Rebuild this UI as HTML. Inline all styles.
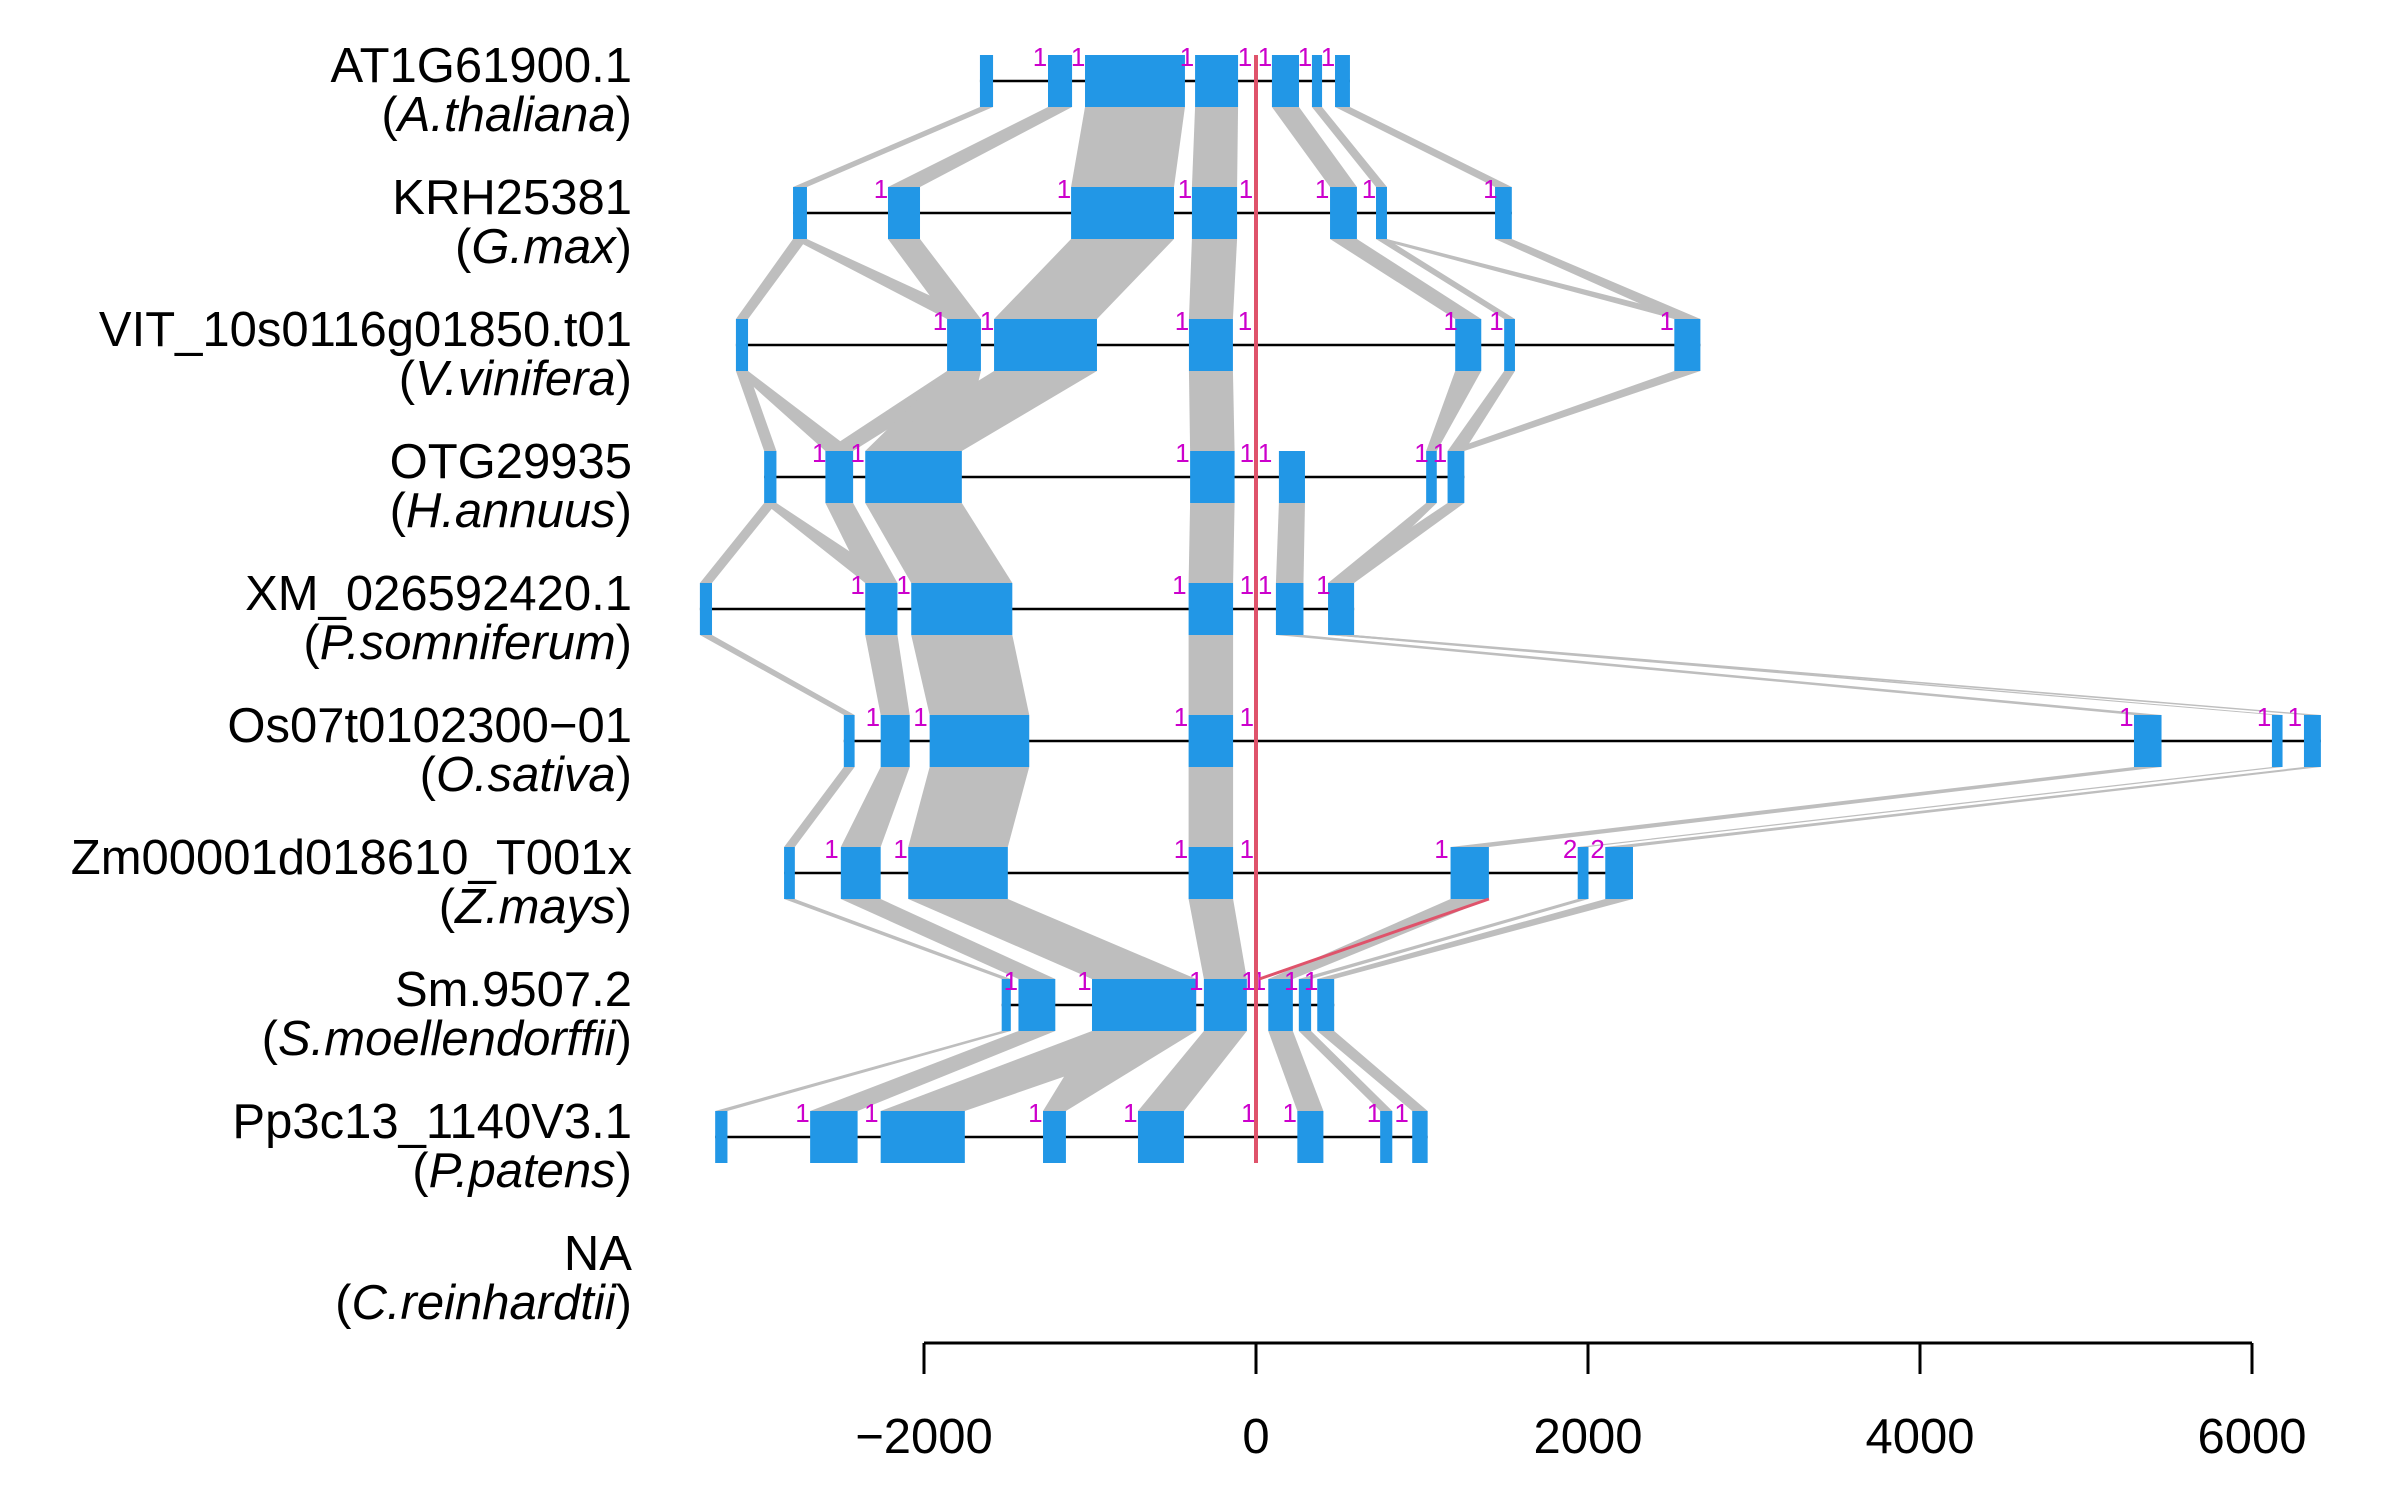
<!DOCTYPE html>
<html><head><meta charset="utf-8"><style>
html,body{margin:0;padding:0;background:#fff;}
svg{display:block;font-family:"Liberation Sans",sans-serif;}
</style></head><body>
<svg id="chart" width="2400" height="1500" viewBox="0 0 2400 1500" xmlns="http://www.w3.org/2000/svg">
<g id="links"></g>
<g id="genes"></g>
<g id="axis"></g>
<g id="ylabels"></g>
</svg>
<script>
const geneNames = ["AT1G61900.1","KRH25381","VIT_10s0116g01850.t01","OTG29935","XM_026592420.1","Os07t0102300\u221201","Zm00001d018610_T001x","Sm.9507.2","Pp3c13_1140V3.1","NA"];
const speciesNames = ["A.thaliana","G.max","V.vinifera","H.annuus","P.somniferum","O.sativa","Z.mays","S.moellendorffii","P.patens","C.reinhardtii"];
const exons = [
 [[-1663,-1584],[-1253,-1108],[-1030,-428],[-367,-108],[96,259],[337,398],[476,566]],
 [[-2789,-2705],[-2217,-2024],[-1114,-494],[-386,-114],[446,608],[723,789],[1440,1541]],
 [[-3133,-3060],[-1861,-1657],[-1578,-958],[-404,-139],[1200,1357],[1495,1560],[2520,2677]],
 [[-2963,-2889],[-2594,-2427],[-2354,-1772],[-397,-129],[138,295],[1025,1089],[1154,1255]],
 [[-3350,-3277],[-2354,-2160],[-2077,-1468],[-406,-138],[120,286],[434,591]],
 [[-2483,-2418],[-2261,-2086],[-1966,-1366],[-406,-138],[5289,5455],[6120,6184],[6313,6415]],
 [[-2843,-2778],[-2501,-2261],[-2095,-1495],[-406,-138],[1172,1403],[1938,2003],[2104,2271]],
 [[-1532,-1477],[-1431,-1209],[-988,-360],[-314,-55],[74,222],[258,332],[369,471]],
 [[-3258,-3184],[-2686,-2400],[-2261,-1754],[-1283,-1145],[-711,-434],[249,406],[748,821],[941,1034]],
 []
];
const phaseX = [
 [-1301,-1072,-416,-66,54,295,434],
 [-2259,-1157,-428,-60,398,681,1412],
 [-1904,-1620,-446,-66,1172,1449,2474],
 [-2631,-2400,-443,-55,55,997,1108],
 [-2400,-2123,-462,-55,55,406],
 [-2308,-2021,-452,-55,5243,6073,6258],
 [-2557,-2141,-452,-55,1117,1892,2058],
 [-1477,-1034,-360,-46,18,212,332],
 [-2732,-2317,-1329,-757,-46,203,711,877],
 []
];
const phaseText = [
 ["1","1","1","1","1","1","1"],
 ["1","1","1","1","1","1","1"],
 ["1","1","1","1","1","1","1"],
 ["1","1","1","1","1","1","1"],
 ["1","1","1","1","1","1"],
 ["1","1","1","1","1","1","1"],
 ["1","1","1","1","1","2","2"],
 ["1","1","1","1","1","1","1"],
 ["1","1","1","1","1","1","1","1"],
 []
];
// [upper row, upper exon, lower exon]
const links = [
 [0,0,0],[0,1,1],[0,2,2],[0,3,3],[0,4,4],[0,5,5],[0,6,6],
 [1,0,0],[1,0,1],[1,1,1],[1,2,2],[1,3,3],[1,4,4],[1,5,5],[1,5,6],[1,6,6],
 [2,0,0],[2,0,1],[2,1,1],[2,1,2],[2,2,2],[2,3,3],[2,4,5],[2,5,6],[2,6,6],
 [3,0,0],[3,0,1],[3,1,1],[3,2,2],[3,3,3],[3,4,4],[3,5,5],[3,6,5],
 [4,0,0],[4,1,1],[4,2,2],[4,3,3],[4,4,4],[4,5,5],[4,5,6],
 [5,0,0],[5,1,1],[5,2,2],[5,3,3],[5,4,4],[5,5,5],[5,6,6],
 [6,0,0],[6,1,1],[6,2,2],[6,3,3],[6,4,4],[6,5,5],[6,6,6],
 [7,0,0],[7,1,1],[7,2,2],[7,2,3],[7,3,4],[7,4,5],[7,5,6],[7,6,7]
];
const axisTicks = [-2000,0,2000,4000,6000];
const axisTickLabels = ["\u22122000","0","2000","4000","6000"];

const NS="http://www.w3.org/2000/svg";
const X0=1256, PX=0.166;
function sx(v){return X0+v*PX;}
function rowY(i){return 81+132*i;}
const H=26;
function mk(tag,attrs,parent){const e=document.createElementNS(NS,tag);for(const k in attrs)e.setAttribute(k,attrs[k]);parent.appendChild(e);return e;}
const gL=document.getElementById('links'),gG=document.getElementById('genes'),gA=document.getElementById('axis'),gY=document.getElementById('ylabels');

links.forEach(l=>{
 const [r,a,b]=l; const u=exons[r][a], d=exons[r+1][b];
 const y1=rowY(r)+H, y2=rowY(r+1)-H;
 const p=mk('polygon',{points:`${sx(u[0])},${y1} ${sx(u[1])},${y1} ${sx(d[1])},${y2} ${sx(d[0])},${y2}`,fill:'#bebebe'},gL);
 
 
});

exons.forEach((ex,i)=>{
 if(!ex.length) return;
 const y=rowY(i);
 const ln=mk('line',{x1:sx(ex[0][0]),x2:sx(ex[ex.length-1][1]),y1:y,y2:y,stroke:'#000','stroke-width':2.5},gG);
 
 
 ex.forEach(e=>{
  const r=mk('rect',{x:sx(e[0]),y:y-H,width:Math.max(2,sx(e[1])-sx(e[0])),height:2*H,fill:'#2297e6'},gG);
  
  
 });
 phaseX[i].forEach((v,j)=>{
  const t=mk('text',{x:sx(v),y:y-15,fill:'#cc00cc','font-size':26,'text-anchor':'middle'},gG);
  t.textContent=phaseText[i][j];
  
  
 });
});

const rl=mk('line',{x1:sx(0),x2:sx(0),y1:rowY(0)-H,y2:rowY(8)+H,stroke:'#df536b','stroke-width':4},gG);


const rd=mk('line',{x1:sx(exons[6][4][1]),y1:rowY(6)+H,x2:sx(20),y2:rowY(7)-H,stroke:'#df536b','stroke-width':3},gG);



const al=mk('line',{x1:sx(axisTicks[0]),x2:sx(axisTicks[axisTicks.length-1]),y1:1343,y2:1343,stroke:'#000','stroke-width':3},gA);


axisTicks.forEach((v,i)=>{
 const tk=mk('line',{x1:sx(v),x2:sx(v),y1:1343,y2:1374,stroke:'#000','stroke-width':3},gA);
 
 
 const t=mk('text',{x:sx(v),y:1453,'font-size':49,'text-anchor':'middle',fill:'#000'},gA);
 t.textContent=axisTickLabels[i];
 
 
});

geneNames.forEach((n,i)=>{
 const y=rowY(i);
 const t=mk('text',{x:632,y:y+1,'font-size':49,'text-anchor':'end',fill:'#000'},gY);
 t.textContent=n;
 
 
 const s=mk('text',{x:632,y:y+50,'font-size':49,'text-anchor':'end',fill:'#000'},gY);
 
 
 s.appendChild(document.createTextNode('('));
 const it=mk('tspan',{'font-style':'italic'},s); it.textContent=speciesNames[i];
 s.appendChild(document.createTextNode(')'));
});
</script>
</body></html>
